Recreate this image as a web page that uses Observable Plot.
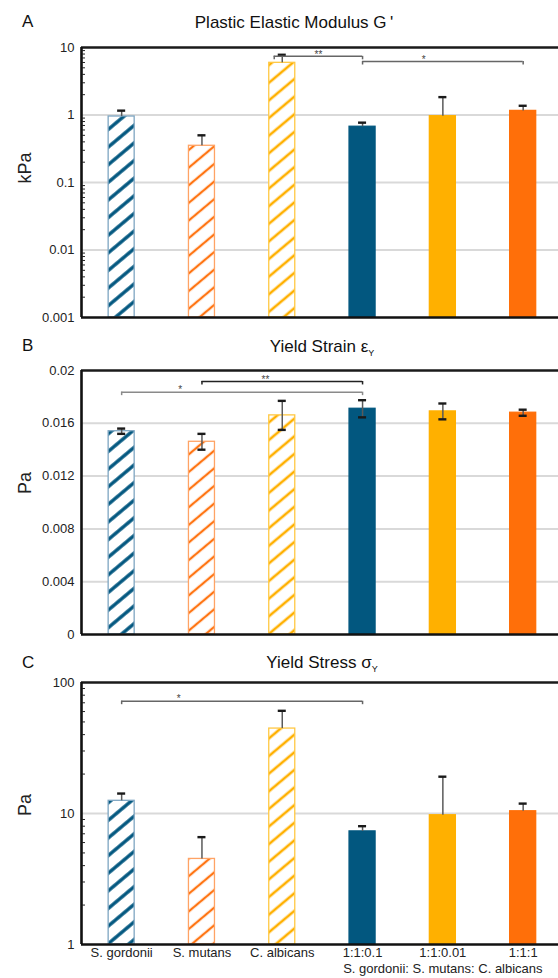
<!DOCTYPE html>
<html><head><meta charset="utf-8">
<script src="https://cdn.jsdelivr.net/npm/d3@7"></script>
<script src="https://cdn.jsdelivr.net/npm/@observablehq/plot@0.6"></script>
<style>
body{margin:0;background:#fff;font-family:"Liberation Sans",Arial,sans-serif;}
#root{position:relative;width:558px;height:978px;overflow:hidden;background:#fff}
.panel{position:absolute;left:0;width:558px}
.txt{position:absolute;line-height:1;white-space:nowrap;color:#111}
.letter{font-size:17px}
.title{font-size:17px;transform:translateX(-50%)}
.title sub{font-size:9px;vertical-align:-4px}
.ylab{font-size:18px;color:#222;transform:translate(-50%,-50%) rotate(-90deg)}
</style></head>
<body>
<svg width="0" height="0" style="position:absolute">
  <defs>
    <pattern id="hatch-blue" patternUnits="userSpaceOnUse" width="13.5" height="13.5" patternTransform="rotate(50)">
      <rect width="13.5" height="13.5" fill="#fff"/>
      <line x1="6.75" y1="-1" x2="6.75" y2="14.5" stroke="#02577f" stroke-width="3.4"/>
    </pattern>
    <pattern id="hatch-orange" patternUnits="userSpaceOnUse" width="13.5" height="13.5" patternTransform="rotate(50)">
      <rect width="13.5" height="13.5" fill="#fff"/>
      <line x1="6.75" y1="-1" x2="6.75" y2="14.5" stroke="#ff7412" stroke-width="2.3"/>
    </pattern>
    <pattern id="hatch-yellow" patternUnits="userSpaceOnUse" width="13.5" height="13.5" patternTransform="rotate(50)">
      <rect width="13.5" height="13.5" fill="#fff"/>
      <line x1="6.75" y1="-1" x2="6.75" y2="14.5" stroke="#ffb000" stroke-width="2.6"/>
    </pattern>
  </defs>
</svg>
<div id="root"></div>
<script>
// ---- data ----
const categories = ["S. gordonii", "S. mutans", "C. albicans", "1:1:0.1", "1:1:0.01", "1:1:1"];
const groupLabel = "S. gordonii: S. mutans: C. albicans";

const modulus    = [0.95, 0.35, 5.93, 0.67, 0.96, 1.15];   // kPa
const modulusErr = [0.21, 0.15, 1.87, 0.10, 0.88, 0.22];
const strain     = [0.0154, 0.0146, 0.0166, 0.0171, 0.0169, 0.0168];
const strainErr  = [0.0002, 0.0006, 0.0011, 0.00065, 0.0006, 0.00023];
const stress     = [12.5, 4.5, 44.5, 7.3, 9.7, 10.4];       // Pa
const stressErr  = [1.7, 2.1, 16.3, 0.7, 9.4, 1.5];

const modulusSig = [
  {from: 1.9, to: 3, level: 7.4, label: "**", at: 2.45},
  {from: 3, to: 5, level: 6.2, label: "*", at: 3.76}
];
const strainSig = [
  {from: 0, to: 3, level: 0.01836, label: "*", at: 0.73},
  {from: 1, to: 3, level: 0.01917, label: "**", at: 1.79}
];
const stressSig = [
  {from: 0, to: 3, level: 72, label: "*", at: 0.71}
];

const modulusTicks = [0.001, 0.01, 0.1, 1, 10];
const strainTicks = [0, 0.004, 0.008, 0.012, 0.016, 0.02];
const stressTicks = [1, 10, 100];

// ---- styles ----
const barFill = ["url(#hatch-blue)", "url(#hatch-orange)", "url(#hatch-yellow)", "#02577f", "#ffb000", "#ff6f09"];
const barStroke = ["#7ea6c2", "#ffa365", "#ffc843", "#02577f", "#ffb000", "#ff6f09"];
const modulusSigColor = ["#666", "#666"];
const strainSigColor = ["#8a8a8a", "#222"];
const stressSigColor = ["#666"];

const xDomain = [-0.5, 5.44];
const halfW = 0.162, capHalf = 0.05;
const FONT = '"Liberation Sans", Arial, sans-serif';

function minorLog(lo, hi) {
  const out = [];
  for (let d = lo; d < hi; d *= 10) for (let k = 2; k <= 9; k++) out.push(+(d * k).toPrecision(3));
  return out;
}

function drawPanel(o) {
  const rows = categories.map((c, i) => ({i, v: o.values[i], e: o.errs[i]}));
  const [y0, y1] = o.yDomain;
  const plotH = o.height - o.marginTop - o.marginBottom;
  const drop = v => o.yType === "log" ? v / Math.pow(y1 / y0, 3.5 / plotH) : v - (y1 - y0) * 3.5 / plotH;
  const caps = rows.map(d => ({i: d.i, y: d.v + d.e}));
  if (o.twoSided) rows.forEach(d => caps.push({i: d.i, y: d.v - d.e}));
  const sig = o.sig.map((d, k) => ({...d, c: o.sigColor[k]}));
  const drops = sig.flatMap(d => [{x: d.from, y1: d.level, y2: drop(d.level), c: d.c}, {x: d.to, y1: d.level, y2: drop(d.level), c: d.c}]);

  const marks = [
    Plot.gridY({ticks: o.gridTicks, stroke: "#d9d9d9", strokeOpacity: 1, strokeWidth: 2}),
    Plot.rectY(rows, {x1: d => d.i - halfW, x2: d => d.i + halfW, y1: y0, y2: "v",
      fill: d => barFill[d.i], stroke: d => barStroke[d.i], strokeWidth: 1.3}),
    Plot.ruleX(rows, {x: "i", y1: o.twoSided ? d => d.v - d.e : "v", y2: d => d.v + d.e, stroke: "#5a5a5a", strokeWidth: 1.5}),
    Plot.ruleY(caps, {y: "y", x1: d => d.i - capHalf, x2: d => d.i + capHalf, stroke: "#1a1a1a", strokeWidth: 2.4}),
    Plot.ruleY(sig, {y: "level", x1: "from", x2: "to", stroke: "c", strokeWidth: 1.5}),
    Plot.ruleX(drops, {x: "x", y1: "y1", y2: "y2", stroke: "c", strokeWidth: 1.5}),
    Plot.text(sig, {x: "at", y: "level", text: "label", dy: -2, fontSize: 10, fill: "#444"}),
    Plot.ruleY([y1], {stroke: "#1a1a1a", strokeWidth: 2.6}),
    Plot.ruleY([y0], {stroke: "#111", strokeWidth: 2.6}),
    Plot.ruleX([xDomain[0]], {stroke: "#111", strokeWidth: 2.6}),
    Plot.axisY({ticks: o.yTicks, tickSize: 0, tickPadding: 7, tickFormat: d => String(d), fill: "#222", fontSize: 13})
  ];
  if (o.minor) marks.push(Plot.axisY({ticks: o.minor, tickSize: 3, dx: 4, tickFormat: () => "", stroke: "#222"}));
  if (o.xLabels) {
    marks.push(Plot.axisX({ticks: categories.map((c, i) => i), tickFormat: i => categories[i], tickSize: 0, tickPadding: 3, fill: "#222", fontSize: 13}));
    marks.push(Plot.text([groupLabel], {x: () => categories.indexOf("1:1:0.01"), frameAnchor: "bottom", dy: 28, text: d => d, fontSize: 13, fill: "#222"}));
  }
  return Plot.plot({
    width: 558, height: o.height,
    marginLeft: 81, marginRight: 0, marginTop: o.marginTop, marginBottom: o.marginBottom,
    style: {fontFamily: FONT, fontSize: "13px", background: "transparent", overflow: "visible"},
    x: {type: "linear", domain: xDomain, axis: o.xLabels ? undefined : null},
    y: {type: o.yType, domain: o.yDomain},
    color: {type: "identity"},
    marks
  });
}

const root = document.getElementById("root");
function addPanel(top, svg) {
  const d = document.createElement("div");
  d.className = "panel"; d.style.top = top + "px";
  d.appendChild(svg); root.appendChild(d);
}
function addText(cls, html, left, top) {
  const d = document.createElement("div");
  d.className = "txt " + cls; d.innerHTML = html;
  d.style.left = left + "px"; d.style.top = top + "px";
  root.appendChild(d);
}

addPanel(0, drawPanel({values: modulus, errs: modulusErr, twoSided: false, yType: "log", yDomain: [0.001, 10],
  yTicks: modulusTicks, gridTicks: [0.01, 0.1, 1], minor: minorLog(0.001, 10),
  sig: modulusSig, sigColor: modulusSigColor, height: 322, marginTop: 47, marginBottom: 5}));
addPanel(322, drawPanel({values: strain, errs: strainErr, twoSided: true, yType: "linear", yDomain: [0, 0.02],
  yTicks: strainTicks, gridTicks: [0.004, 0.008, 0.012, 0.016], minor: null,
  sig: strainSig, sigColor: strainSigColor, height: 316, marginTop: 48, marginBottom: 4}));
addPanel(638, drawPanel({values: stress, errs: stressErr, twoSided: false, yType: "log", yDomain: [1, 100],
  yTicks: stressTicks, gridTicks: [10], minor: minorLog(1, 100),
  sig: stressSig, sigColor: stressSigColor, height: 340, marginTop: 44, marginBottom: 34, xLabels: true}));

addText("letter", "A", 22, 13);
addText("title", "Plastic Elastic Modulus G\u2009'", 294, 14);
addText("ylab", "kPa", 25, 168);
addText("letter", "B", 22, 337);
addText("title", "Yield Strain \u03b5<sub>Y</sub>", 322, 338);
addText("ylab", "Pa", 25, 483);
addText("letter", "C", 22, 654);
addText("title", "Yield Stress \u03c3<sub>Y</sub>", 322, 654);
addText("ylab", "Pa", 25, 805);
</script>
</body></html>
